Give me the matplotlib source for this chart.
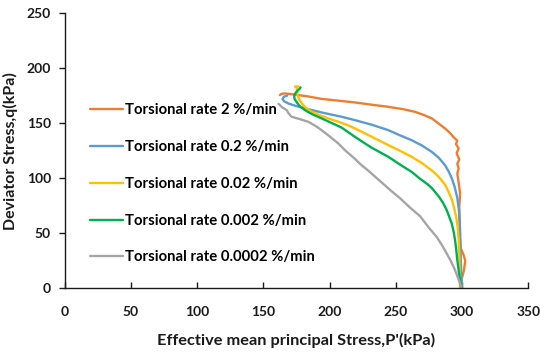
import matplotlib
matplotlib.use("Agg")
import matplotlib.pyplot as plt

plt.rcParams['font.family'] = ['Lato', 'DejaVu Sans']

labels = [
    "Torsional rate 2 %/min",
    "Torsional rate 0.2 %/min",
    "Torsional rate 0.02 %/min",
    "Torsional rate 0.002 %/min",
    "Torsional rate 0.0002 %/min",
]
colors = ["#ED7D31", "#5B9BD5", "#FFC000", "#00B050", "#A5A5A5"]

# Stress paths: effective mean principal stress p' (kPa) and deviator stress q (kPa)
p_2 = [299, 299.5, 301.5, 302.5, 301, 299.2, 298.6, 298.4, 298, 298.6, 297.3, 296.5,
       297.5, 296.5, 298, 296, 297.5, 295.5, 296.5, 293.5, 291, 287.2, 282, 277.2, 271,
       264.5, 255, 244.4, 232, 219.2, 206, 194, 185, 176.3, 170, 166.3, 163.5, 162.5]
q_2 = [0, 7, 16, 25, 31, 36, 45, 60, 74, 86, 98, 104, 108.8, 113, 117, 122.5, 127, 131,
       134, 137.5, 141, 145.2, 150, 154.3, 157.5, 160.3, 162.8, 164.8, 166.7, 168.8,
       170.5, 172, 174, 175.5, 176.5, 177, 176.5, 175.5]

p_02 = [300, 299.3, 298.8, 298.5, 297.8, 296.5, 294.5, 292.3, 290, 287.2, 282.5, 277.2,
        270, 262, 253, 244.4, 232, 219.2, 209, 194, 181.4, 174, 168.8, 165.5, 164.5,
        165.5, 168]
q_02 = [0, 20, 40, 55, 70, 82, 92, 100, 106, 111.8, 118.5, 123.9, 129.5, 134.5, 139,
        143.6, 148.5, 152.7, 155.8, 159.7, 163.4, 165.8, 167.9, 170, 172, 174, 175]

p_002 = [298.5, 298.3, 298, 297.5, 296.8, 295.8, 294.5, 292.5, 290.5, 287.5, 284, 281,
         277.2, 270, 262, 253, 244.4, 232, 226.8, 219.2, 214, 206, 199, 192, 186.5, 182,
         179, 177, 175.8, 175.5, 175, 173.8, 176.5]
q_002 = [0, 15, 31.5, 45, 55, 64, 71, 80, 86, 93.6, 99, 103, 107, 113.5, 119.4,
         125, 130, 137.5, 140.6, 145.2, 148, 151.5, 154.3, 157.5, 160.3, 164, 168, 172,
         175.5, 179, 183, 183, 183.3]

p_0002 = [299.5, 298, 296.5, 295.7, 294.8, 293.8, 292.3, 290.5, 288.5, 286, 283, 280,
          277.2, 274, 268.3, 262, 253, 244.4, 232, 226.8, 219.2, 209, 200, 194, 187,
          181.4, 177, 175, 173.5, 173.3, 175, 177.6, 178]
q_0002 = [0, 12, 25.5, 35, 43.6, 51, 58.8, 64.5, 71, 77, 82.5, 87, 91, 94.5, 99.5,
          105.7, 112.5, 119.4, 127.5, 131.5, 137.5, 146, 151, 154.3, 158, 161.8, 166,
          169.4, 172, 175.5, 178.5, 181.5, 182.5]

p_00002 = [299.5, 298.6, 294.8, 291.5, 288.5, 285, 280.9, 275, 268.3, 261, 253, 246,
           238, 230, 223, 219.2, 212, 206.6, 200, 194, 190, 183.9, 178, 175, 171.3, 169,
           167.6, 164, 162.5, 161.5]
q_00002 = [0, 4.3, 16.4, 25, 31.5, 39, 46.6, 55, 65.5, 73, 82, 89, 97.5, 106, 113,
           117.5, 125, 131.5, 138, 143.6, 147, 151.2, 153.5, 154.5, 155.8, 159, 161.8,
           164.5, 166.4, 167.5]

series_p = [p_2, p_02, p_002, p_0002, p_00002]
series_q = [q_2, q_02, q_002, q_0002, q_00002]

fig = plt.figure(figsize=(5.4, 3.54), dpi=100)
ax = fig.add_axes([0.120, 0.186, 0.858, 0.777])

for p, q, c, lab in zip(series_p, series_q, colors, labels):
    ax.plot(p, q, color=c, lw=1.7, label=lab, solid_joinstyle='round',
            solid_capstyle='round')

ax.set_xlim(0, 350)
ax.set_ylim(0, 250)
ax.set_xticks(range(0, 351, 50))
ax.set_yticks(range(0, 251, 50))
for s in ("top", "right"):
    ax.spines[s].set_visible(False)
for s in ("left", "bottom"):
    ax.spines[s].set_linewidth(1.0)
    ax.spines[s].set_color("#1a1a1a")
ax.tick_params(axis="x", direction="in", length=4, width=1.0, pad=12.5,
               labelsize=10, colors="#1a1a1a")
ax.tick_params(axis="y", direction="out", length=4, width=1.0, pad=6,
               labelsize=10, colors="#1a1a1a")
for t in ax.get_xticklabels() + ax.get_yticklabels():
    t.set_fontweight("bold")

ax.set_xlabel("Effective mean principal Stress,P'(kPa)", fontsize=11.8,
              fontweight="bold", labelpad=11, color="#1a1a1a")
ax.set_ylabel("Deviator Stress,q(kPa)", fontsize=11.5, fontweight="bold",
              labelpad=6, color="#1a1a1a")

leg = ax.legend(loc="upper left", bbox_to_anchor=(0.026, 0.72), frameon=False,
                handlelength=2.2, handletextpad=0.15, labelspacing=1.53,
                borderaxespad=0.5, prop={"size": 10.7, "weight": "bold"})

fig.savefig("out.png", dpi=100)
